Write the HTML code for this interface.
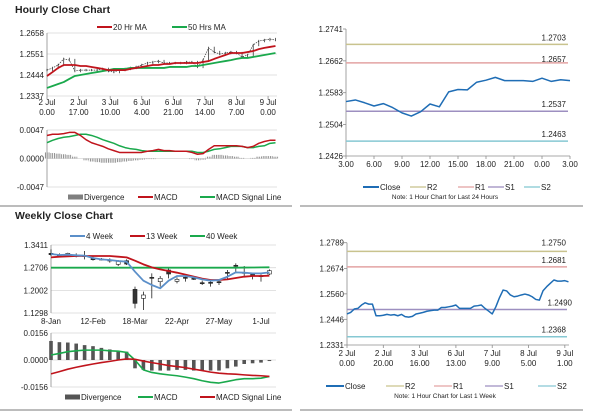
<!DOCTYPE html>
<html><head><meta charset="utf-8"><style>
body{margin:0;background:#fff;}
svg{display:block;font-family:"Liberation Sans",sans-serif;}
text{fill:#222;}
</style></head><body>
<svg id="c" width="600" height="413" viewBox="0 0 600 413" xmlns="http://www.w3.org/2000/svg">
<defs>
<pattern id="stripe" width="1.8" height="4" patternUnits="userSpaceOnUse"><rect x="0" y="0" width="0.9" height="4" fill="#8a8a8a"/></pattern>
</defs>
<text x="15" y="13" font-size="10.5" font-weight="bold">Hourly Close Chart</text>
<text x="15" y="219" font-size="10.5" font-weight="bold">Weekly Close Chart</text>
<line x1="0" y1="206" x2="292" y2="206" stroke="#a6a6a6" stroke-width="1.5"/>
<line x1="300" y1="206" x2="583" y2="206" stroke="#a6a6a6" stroke-width="1.5"/>
<line x1="0" y1="410" x2="292" y2="410" stroke="#a6a6a6" stroke-width="1.5"/>
<line x1="300" y1="410" x2="583" y2="410" stroke="#a6a6a6" stroke-width="1.5"/>
</svg>
<script>
// ---------- Hourly (left top) ----------
const hHours=[0,3,6,9,12,15,18,21,24,27,30,33,36,39,42,45,48,51,54,57,60,63,66,69,72,75,78,81,84,87,90,93,96,99,102,105,108,111,114,117,120,123];
const hClose=[1.2469,1.2480,1.2495,1.2526,1.2520,1.2464,1.2469,1.2469,1.2469,1.2469,1.2475,1.2464,1.2459,1.2469,1.2475,1.2480,1.2485,1.2495,1.2505,1.2510,1.2515,1.2505,1.2505,1.2505,1.2505,1.2510,1.2510,1.2485,1.2520,1.2582,1.2561,1.2551,1.2556,1.2561,1.2556,1.2536,1.2546,1.2597,1.2617,1.2622,1.2627,1.2622];
const hMA20=[1.2439,1.2459,1.2480,1.2495,1.2495,1.2495,1.2490,1.2490,1.2485,1.2480,1.2475,1.2469,1.2469,1.2469,1.2469,1.2475,1.2480,1.2485,1.2490,1.2495,1.2495,1.2500,1.2500,1.2505,1.2505,1.2505,1.2505,1.2505,1.2510,1.2515,1.2526,1.2536,1.2546,1.2556,1.2556,1.2556,1.2561,1.2566,1.2576,1.2582,1.2587,1.2592];
const hMA50=[1.2378,1.2388,1.2398,1.2408,1.2424,1.2439,1.2444,1.2449,1.2454,1.2459,1.2464,1.2469,1.2475,1.2475,1.2475,1.2480,1.2480,1.2480,1.2480,1.2480,1.2480,1.2480,1.2485,1.2485,1.2485,1.2485,1.2490,1.2490,1.2495,1.2500,1.2505,1.2510,1.2515,1.2520,1.2526,1.2531,1.2531,1.2536,1.2541,1.2546,1.2551,1.2556];
const hTicks=[1.2658,1.2551,1.2444,1.2337];
const hXLabelHours=[0,17,34,51,68,85,102,119];
const hXLabels=[["2 Jul","0.00"],["2 Jul","17.00"],["3 Jul","10.00"],["6 Jul","4.00"],["6 Jul","21.00"],["7 Jul","14.00"],["8 Jul","7.00"],["9 Jul","0.00"]];
const hMACD=[0.0038,0.0040,0.0040,0.0041,0.0043,0.0043,0.0038,0.0031,0.0026,0.0023,0.0020,0.0016,0.0013,0.0010,0.0010,0.0010,0.0010,0.0010,0.0012,0.0013,0.0015,0.0013,0.0013,0.0012,0.0012,0.0012,0.0010,0.0007,0.0008,0.0015,0.0021,0.0021,0.0021,0.0021,0.0021,0.0020,0.0018,0.0020,0.0025,0.0028,0.0030,0.0030];
const hSignal=[0.0026,0.0030,0.0033,0.0035,0.0036,0.0038,0.0040,0.0040,0.0038,0.0035,0.0031,0.0028,0.0025,0.0021,0.0018,0.0016,0.0015,0.0013,0.0012,0.0012,0.0012,0.0012,0.0012,0.0012,0.0012,0.0012,0.0012,0.0010,0.0010,0.0012,0.0015,0.0016,0.0018,0.0020,0.0020,0.0020,0.0018,0.0018,0.0020,0.0021,0.0025,0.0026];
const hDiv=[0.0010,0.0009,0.0008,0.0007,0.0006,0.0003,0.0000,-0.0003,-0.0005,-0.0006,-0.0007,-0.0007,-0.0007,-0.0006,-0.0005,-0.0004,-0.0003,-0.0002,-0.0001,-0.0001,0,0,0,0,0,0,-0.0001,-0.0003,-0.0002,0.0003,0.0006,0.0006,0.0005,0.0004,0.0003,0.0001,0,0.0001,0.0003,0.0004,0.0004,0.0003];
const hMacdTicks=[0.0047,0.0000,-0.0047];
const hMacdTickLabels=["0.0047","0.0000","-0.0047"];
// ---------- 24h (right top) ----------
const dHours=[0,1,2,3,4,5,6,7,8,9,10,11,12,13,14,15,16,17,18,19,20,21,22,23,24];
const dClose=[1.2561,1.2565,1.2558,1.2550,1.2556,1.2546,1.2533,1.2525,1.2536,1.2555,1.2548,1.2585,1.2591,1.2590,1.2609,1.2614,1.2621,1.2613,1.2613,1.2613,1.2611,1.2619,1.2611,1.2615,1.2613];
const dTicks=[1.2741,1.2662,1.2583,1.2504,1.2426];
const dXLabelHours=[0,3,6,9,12,15,18,21,24];
const dXLabels=["3.00","6.00","9.00","12.00","15.00","18.00","21.00","0.00","3.00"];
const dLevels=[1.2703,1.2657,1.2537,1.2463];
const dLevelLabels=["1.2703","1.2657","1.2537","1.2463"];
// ---------- Weekly (left bottom) ----------
const wOpen=[1.3152,1.3100,1.3090,1.3090,1.3079,1.2986,1.2976,1.2945,1.2810,1.2924,1.2033,1.1754,1.2406,1.2271,1.2634,1.2282,1.2406,1.2375,1.2240,1.2251,1.2271,1.2561,1.2779,1.2561,1.2510,1.2458,1.2510];
const wClose=[1.3110,1.3090,1.3152,1.3069,1.3079,1.2986,1.2945,1.2924,1.2903,1.2820,1.1598,1.1857,1.2385,1.2375,1.2510,1.2344,1.2375,1.2375,1.2220,1.2220,1.2251,1.2541,1.2758,1.2541,1.2447,1.2427,1.2613];
const wHigh=[1.3276,1.3152,1.3172,1.3152,1.3224,1.3048,1.3007,1.2996,1.2945,1.2965,1.2116,1.1961,1.2530,1.2447,1.2686,1.2406,1.2479,1.2406,1.2302,1.2323,1.2344,1.2634,1.2841,1.2758,1.2551,1.2499,1.2655];
const wLow=[1.3069,1.3027,1.3048,1.3027,1.2965,1.2924,1.2934,1.2862,1.2758,1.2789,1.1443,1.1391,1.1754,1.2116,1.2375,1.2220,1.2271,1.2323,1.2168,1.2116,1.2168,1.2323,1.2582,1.2447,1.2344,1.2271,1.2479];
const wMA4=[1.3131,1.3100,1.3110,1.3090,1.3079,1.3007,1.2965,1.2945,1.2914,1.2893,1.2582,1.2302,1.2168,1.2064,1.2302,1.2447,1.2447,1.2406,1.2344,1.2302,1.2323,1.2427,1.2561,1.2551,1.2530,1.2530,1.2561];
const wMA13=[1.3027,1.3048,1.3059,1.3069,1.3069,1.3069,1.3069,1.3069,1.3048,1.3027,1.2924,1.2810,1.2717,1.2655,1.2603,1.2551,1.2489,1.2427,1.2365,1.2323,1.2323,1.2344,1.2385,1.2427,1.2447,1.2447,1.2458];
const wMA40=[1.2706,1.2706,1.2706,1.2706,1.2706,1.2706,1.2706,1.2706,1.2706,1.2706,1.2706,1.2706,1.2706,1.2706,1.2706,1.2706,1.2706,1.2706,1.2706,1.2706,1.2706,1.2706,1.2706,1.2710,1.2712,1.2715,1.2717];
const wTicks=[1.3411,1.2706,1.2002,1.1298];
const wXLabelIdx=[0,5,10,15,20,25];
const wXLabels=["8-Jan","12-Feb","18-Mar","22-Apr","27-May","1-Jul"];
const wDiv=[0.0110,0.0103,0.0101,0.0095,0.0086,0.0080,0.0070,0.0061,0.0053,0.0048,-0.0048,-0.0057,-0.0061,-0.0061,-0.0061,-0.0057,-0.0057,-0.0061,-0.0061,-0.0061,-0.0061,-0.0048,-0.0038,-0.0023,-0.0019,-0.0015,-0.0006];
const wMACD=[0.0029,0.0038,0.0048,0.0053,0.0057,0.0057,0.0057,0.0053,0.0051,0.0044,0.0000,-0.0057,-0.0072,-0.0080,-0.0086,-0.0091,-0.0099,-0.0108,-0.0120,-0.0129,-0.0133,-0.0124,-0.0114,-0.0108,-0.0108,-0.0105,-0.0095];
const wSignal=[-0.0080,-0.0067,-0.0053,-0.0042,-0.0032,-0.0023,-0.0015,-0.0008,0.0000,0.0006,0.0004,-0.0006,-0.0015,-0.0023,-0.0032,-0.0038,-0.0044,-0.0053,-0.0061,-0.0070,-0.0076,-0.0080,-0.0082,-0.0086,-0.0089,-0.0091,-0.0095];
const wMacdTicks=[0.0156,0.0000,-0.0156];
const wMacdTickLabels=["0.0156","0.0000","-0.0156"];
// ---------- 1 week hourly (right bottom) ----------
const kHours=[0,2,4,6,8,10,12,14,16,18,20,22,24,26,28,30,32,34,36,38,40,42,44,46,48,50,52,54,56,58,60,62,64,66,68,70,72,74,76,78,80,82,84,86,88,90,92,94,96,98,100,102,104,106,108,110,112,114,116,118,120,122];
const kClose=[1.2470,1.2477,1.2492,1.2495,1.2510,1.2520,1.2514,1.2514,1.2462,1.2462,1.2464,1.2468,1.2465,1.2467,1.2462,1.2468,1.2458,1.2456,1.2459,1.2470,1.2473,1.2477,1.2482,1.2485,1.2487,1.2487,1.2499,1.2499,1.2502,1.2505,1.2510,1.2495,1.2495,1.2495,1.2495,1.2505,1.2507,1.2510,1.2495,1.2483,1.2470,1.2502,1.2543,1.2577,1.2573,1.2555,1.2547,1.2550,1.2555,1.2559,1.2555,1.2547,1.2535,1.2532,1.2574,1.2592,1.2607,1.2622,1.2617,1.2617,1.2619,1.2614];
const kTicks=[1.2789,1.2674,1.2560,1.2446,1.2331];
const kXLabelHours=[0,20,40,60,80,100,120];
const kXLabels=[["2 Jul","0.00"],["2 Jul","20.00"],["3 Jul","16.00"],["6 Jul","13.00"],["7 Jul","9.00"],["8 Jul","5.00"],["9 Jul","1.00"]];
const kLevels=[1.2750,1.2681,1.2490,1.2368];
const kLevelLabels=["1.2750","1.2681","1.2490","1.2368"];

const svg=document.getElementById('c');
const NS='http://www.w3.org/2000/svg';
function mk(tag,attrs){const e=document.createElementNS(NS,tag);for(const k in attrs)e.setAttribute(k,attrs[k]);svg.appendChild(e);return e;}
function lin(a,b,c,d){return v=>c+(v-a)*(d-c)/(b-a);}
function txt(x,y,s,anchor,size){const t=mk('text',{x:x,y:y,'font-size':size||8,'text-anchor':anchor||'start'});t.textContent=s;return t;}
function poly(xs,ys,color,w,name){const p=mk('polyline',{points:xs.map((x,i)=>x.toFixed(2)+','+ys[i].toFixed(2)).join(' '),fill:'none',stroke:color,'stroke-width':w,'stroke-linejoin':'round'});


return p;}
function grid(x0,x1,ticks,Y,labels,name){ticks.forEach((t,i)=>{const g=mk('line',{x1:x0,x2:x1,y1:Y(t),y2:Y(t),stroke:'#d9d9d9','stroke-width':0.8});


const l=txt(x0-3,Y(t)+3,labels?labels[i]:t.toFixed(4),'end');

});}
function vaxis(x,y0,y1,name){const a=mk('line',{x1:x,x2:x,y1:y0,y2:y1,stroke:'#8c8c8c','stroke-width':0.8});

}
function legLine(x,y,color,label,w,name,len){len=len||15;const l=mk('line',{x1:x,x2:x+len,y1:y,y2:y,stroke:color,'stroke-width':w||2});


const t=txt(x+len+1,y+3,label);

}
function legBar(x,y,color,label,name){const r=mk('rect',{x:x,y:y-2.5,width:15,height:5,fill:color});


const t=txt(x+16,y+3,label);

}
const RED='#c0141c',GREEN='#1aa94c',BLUE='#1f6db5',LBLUE='#5b8fc9';

// Hourly price
{const X=lin(0,123,47,275.5),Y=lin(1.2337,1.2658,96,33);
grid(47,277,hTicks,Y,null,'hourly-price');vaxis(47,33,96,'hourly-price-y-axis');
hXLabelHours.forEach((h,i)=>{const a=txt(X(h),105,hXLabels[i][0],'middle');


const b=txt(X(h),115,hXLabels[i][1],'middle');


const tk=mk('line',{x1:X(h),x2:X(h),y1:96,y2:99,stroke:'#8c8c8c','stroke-width':0.8});

});
const xs=hHours.map(X);
hClose.forEach((v,i)=>{const pv=i?hClose[i-1]:v;const y1=Math.min(Y(v),Y(pv))-1.2,y2=Math.max(Y(v),Y(pv))+1.2;
const w=mk('line',{x1:xs[i],x2:xs[i],y1:y1,y2:y2,stroke:'#222','stroke-width':0.7});

});
poly(xs,hClose.map(Y),'#333',0.7,'hourly-close-line').setAttribute('stroke-dasharray','1.5 1');
poly(xs,hMA50.map(Y),GREEN,1.8,'ma50-line');
poly(xs,hMA20.map(Y),RED,1.8,'ma20-line');
legLine(97,27,RED,'20 Hr MA',2,'legend-ma20');legLine(172,27,GREEN,'50 Hrs MA',2,'legend-ma50');
const M=lin(-0.0047,0.0047,187,130);
grid(47,277,hMacdTicks,M,hMacdTickLabels,'hourly-macd');vaxis(47,130,187,'hourly-macd-y-axis');
hDiv.forEach((v,i)=>{const r=mk('rect',{x:xs[i]-2.8,y:Math.min(M(v),M(0)),width:5.6,height:Math.abs(M(v)-M(0)),fill:'url(#stripe)'});

});
poly(xs,hSignal.map(M),GREEN,1.5,'hourly-macd-signal-line');
poly(xs,hMACD.map(M),RED,1.5,'hourly-macd-line');
legBar(68,197,'#7f7f7f','Divergence','legend-hourly-divergence');legLine(138,197,RED,'MACD',2,'legend-hourly-macd');legLine(200,197,GREEN,'MACD Signal Line',2,'legend-hourly-signal');}

function levelChart(hours,close,ticks,xh,xl,levels,lvLabels,x0,x1,y0,y1,hMax,prefix,twoLine,labelX,legY,note,labelDy,legX,legLen){
const X=lin(0,hMax,x0,x1),Y=lin(ticks[ticks.length-1],ticks[0],y1,y0);
vaxis(x0,y0,y1,prefix+'-y-axis');
const ax=mk('line',{x1:x0,x2:x1,y1:y1,y2:y1,stroke:'#8c8c8c','stroke-width':0.8});


ticks.forEach(t=>{const l=txt(x0-3,Y(t)+3,t.toFixed(4),'end');


const tk=mk('line',{x1:x0-3,x2:x0,y1:Y(t),y2:Y(t),stroke:'#8c8c8c','stroke-width':0.8});

});
xh.forEach((h,i)=>{const tk=mk('line',{x1:X(h),x2:X(h),y1:y1,y2:y1+3,stroke:'#8c8c8c','stroke-width':0.8});


if(twoLine){const a=txt(X(h),y1+11,xl[i][0],'middle');


const b=txt(X(h),y1+21,xl[i][1],'middle');

}
else{const a=txt(X(h),y1+11,xl[i],'middle');

}});
const cols=['#c9c38e','#e3a3a3','#9d8fc0','#86c8d3'],nm=['r2','r1','s1','s2'];
levels.forEach((v,i)=>{const l=mk('line',{x1:x0,x2:x1-2,y1:Y(v),y2:Y(v),stroke:cols[i],'stroke-width':1.5});


const t=txt(labelX[i],Y(v)+labelDy[i],lvLabels[i],'end');

});
poly(hours.map(X),close.map(Y),BLUE,1.5,prefix+'-close-line');
const names=['Close','R2','R1','S1','S2'];const lc=[BLUE,cols[0],cols[1],cols[2],cols[3]];
names.forEach((n,i)=>legLine(legX[i],legY,lc[i],n,i?1.3:2,prefix+'-legend-'+n.toLowerCase(),legLen));
const nt=txt(445,legY+12,note,'middle',6.5);

}
levelChart(dHours,dClose,dTicks,dXLabelHours,dXLabels,dLevels,dLevelLabels,346,570,29,156,24,'day-chart',false,[566,566,566,566],187,'Note: 1 Hour Chart for Last 24 Hours',[-4,-1,-4,-4],[363,410,458,488,524],16);
levelChart(kHours,kClose,kTicks,kXLabelHours,kXLabels,kLevels,kLevelLabels,347,569,242.7,345,122.3,'week-chart',true,[566,566,572,566],386,'Note: 1 Hour Chart for Last 1 Week',[-6,-4,-4,-4],[326,386,434,485,538],18);

// Weekly
{const idx=wOpen.map((_,i)=>i);const X=lin(0,25,51,261),Y=lin(1.1298,1.3411,313,245);
grid(51,276,wTicks,Y,null,'weekly-price');vaxis(51,245,313,'weekly-price-y-axis');
wXLabelIdx.forEach((k,i)=>{const a=txt(X(k),324,wXLabels[i],'middle');

});
idx.forEach(i=>{const x=X(i);const w=mk('line',{x1:x,x2:x,y1:Y(wHigh[i]),y2:Y(wLow[i]),stroke:'#222','stroke-width':0.8});


const top=Math.min(Y(wOpen[i]),Y(wClose[i])),h=Math.max(1,Math.abs(Y(wOpen[i])-Y(wClose[i])));
const up=wClose[i]>wOpen[i];
const r=mk('rect',{x:x-2,y:top,width:4,height:h,fill:up?'#fff':'#333',stroke:'#222','stroke-width':0.6});

});
const xs=idx.map(X);
poly(xs,wMA40.map(Y),GREEN,1.8,'ma40-week-line');
poly(xs,wMA13.map(Y),RED,1.8,'ma13-week-line');
poly(xs,wMA4.map(Y),LBLUE,1.8,'ma4-week-line');
legLine(70,236,LBLUE,'4 Week',2,'legend-4-week');legLine(130,236,RED,'13 Week',2,'legend-13-week');legLine(190,236,GREEN,'40 Week',2,'legend-40-week');
const M=lin(-0.0156,0.0156,387,333);
grid(51,276,wMacdTicks,M,wMacdTickLabels,'weekly-macd');vaxis(51,333,387,'weekly-macd-y-axis');
wDiv.forEach((v,i)=>{const r=mk('rect',{x:xs[i]-1.8,y:Math.min(M(v),M(0)),width:3.6,height:Math.abs(M(v)-M(0)),fill:'#555'});

});
poly(xs,wMACD.map(M),GREEN,1.6,'weekly-macd-line');
poly(xs,wSignal.map(M),RED,1.6,'weekly-macd-signal-line');
legBar(65,397,'#555','Divergence','legend-weekly-divergence');legLine(138,397,GREEN,'MACD',2,'legend-weekly-macd');legLine(200,397,RED,'MACD Signal Line',2,'legend-weekly-signal');}
</script>
</body></html>
